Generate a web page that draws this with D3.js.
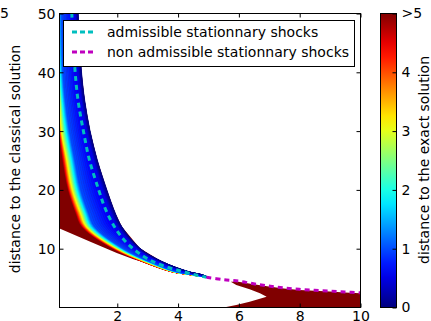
<!DOCTYPE html>
<html><head><meta charset="utf-8">
<script src="https://cdn.jsdelivr.net/npm/d3@7"></script>
<style>body{margin:0;background:#fff}text{font-family:"DejaVu Sans",sans-serif;fill:#000}</style>
</head><body><svg id="c" width="431" height="321"></svg>
<script>
// ---- data ----
const xTicks = [2, 4, 6, 8, 10];
const yTicks = [10, 20, 30, 40, 50];
const cbTicks = [0, 1, 2, 3, 4, 5];
const cbTickLabels = ["0", "1", "2", "3", "4", ">5"];
const seriesNames = ["admissible stationnary shocks", "non admissible stationnary shocks"];
const yLabel = "distance to the classical solution";
const cbLabel = "distance to the exact solution";

// admissible stationary shocks (cyan)
const admX = [0.52, 0.63, 0.73, 0.9, 1.1, 1.4, 1.6, 1.85, 2.1, 2.45, 2.9, 3.3, 3.8, 4.2, 4.6, 4.95];
const admY = [50, 40, 35, 30, 25, 20, 17, 14.3, 12.3, 10.3, 8.55, 7.45, 6.55, 6.0, 5.45, 5.05];
// non admissible stationary shocks (magenta)
const nonX = [4.95, 5.5, 6.0, 6.5, 7.0, 7.5, 8.0, 8.5, 9.0, 9.5, 10.0];
const nonY = [5.05, 4.65, 4.4, 3.95, 3.57, 3.25, 3.0, 2.85, 2.72, 2.55, 2.43];

// band of the distance field: x position of iso-lines (distance 5,4,3,2,1,0.5,0) at each y
const bandY   = [50, 40, 35, 30, 25, 20, 16, 13.65, 10, 7.7, 6, 5.5, 5.05];
const bandL5  = [-0.3, -0.15, 0.0, 0.1, 0.22, 0.4, 0.65, 0.85, 1.85, 2.85, 3.8, 4.4, 4.95];
const bandL4  = [-0.2, 0.0, 0.08, 0.15, 0.3, 0.47, 0.73, 0.94, 1.93, 2.91, 3.84, 4.43, 4.95];
const bandL3  = [-0.1, 0.08, 0.14, 0.2, 0.38, 0.56, 0.83, 1.03, 2.01, 2.97, 3.88, 4.46, 4.95];
const bandL2  = [0.05, 0.14, 0.21, 0.32, 0.5, 0.68, 0.95, 1.14, 2.1, 3.03, 3.92, 4.5, 4.95];
const bandL1  = [0.2, 0.24, 0.32, 0.45, 0.63, 0.82, 1.08, 1.28, 2.2, 3.1, 3.98, 4.55, 4.97];
const bandL05 = [0.65, 0.75, 0.855, 1.02, 1.25, 1.54, 1.82, 2.04, 2.68, 3.44, 4.31, 4.76, 5.01];
const bandL0  = [0.73, 0.84, 0.95, 1.12, 1.36, 1.67, 1.95, 2.17, 2.76, 3.5, 4.37, 4.8, 5.02];

// saturated (>5) region at lower left: lower boundary
const wedgeX = [0.1, 1.13, 2.0, 2.55, 3.02];
const wedgeY = [13.4, 11.1, 9.2, 8.1, 7.4];

// saturated (>5) region at lower right
const rightTopX = [5.75, 6.0, 6.5, 7.0, 7.5, 8.0, 8.5, 9.0, 9.5, 10.0];
const rightTopY = [4.3, 4.3, 3.85, 3.47, 3.15, 2.9, 2.75, 2.62, 2.45, 2.33];
const notchLowerX = [5.6, 5.93, 6.37, 6.93];
const notchLowerY = [0, 0.34, 0.9, 1.75];
const notchUpperX = [6.71, 6.37, 5.93, 5.75];
const notchUpperY = [2.33, 3.0, 3.74, 4.3];

// ---- layout ----
const L = 59, R = 360, T = 13, B = 307;
const FS = "14px";
const svg = d3.select("#c");
const x = d3.scaleLinear().domain([0.1, 10]).range([L, R]);
const y = d3.scaleLinear().domain([0, 50]).range([B, T]);
const cbx0 = 380, cbx1 = 396;
const cy = d3.scaleLinear().domain([0, 5]).range([B, T]);

function jet(t) {
  const c = v => Math.max(0, Math.min(1, v));
  const r = c(1.5 - Math.abs(4 * t - 3)), g = c(1.5 - Math.abs(4 * t - 2)), b = c(1.5 - Math.abs(4 * t - 1));
  return d3.rgb(r * 255, g * 255, b * 255).toString();
}
const color = v => jet(Math.max(0, Math.min(5, v)) / 5);

svg.append("defs").append("clipPath").attr("id", "pc")
  .append("rect").attr("x", L).attr("y", T).attr("width", R - L).attr("height", B - T);
const g = svg.append("g").attr("clip-path", "url(#pc)");

const line = d3.line().x(d => x(d[0])).y(d => y(d[1])).curve(d3.curveCatmullRom);
const poly = d3.line().x(d => x(d[0])).y(d => y(d[1])).curve(d3.curveLinearClosed);

// dark red (>5) region left
{
  const pts = [[-1, 60], [-1, 13.45]];
  wedgeX.forEach((v, i) => pts.push([v, wedgeY[i]]));
  for (let i = bandY.length - 1; i >= 0; i--) if (bandY[i] >= 7.7) pts.push([bandL0[i], bandY[i]]);
  pts.push([bandL0[0], 60]);
  g.append("path").attr("d", poly(pts)).attr("fill", color(5));
}
// dark red (>5) region right
{
  const pts = [];
  rightTopX.forEach((v, i) => pts.push([v, rightTopY[i]]));
  pts.push([10.5, 2.33], [10.5, -1], [5.5, -1]);
  notchLowerX.forEach((v, i) => pts.push([v, notchLowerY[i]]));
  notchUpperX.forEach((v, i) => pts.push([v, notchUpperY[i]]));
  g.append("path").attr("d", poly(pts)).attr("fill", color(5));
}

// band: strips between iso-lines
const levels = [bandL5, bandL4, bandL3, bandL2, bandL1, bandL05, bandL0];
const levelVals = [5, 4, 3, 2, 1, 0.5, 0];
const NS = 10;
const area = d3.area().y(d => y(d.y)).x0(d => x(d.a)).x1(d => x(d.b)).curve(d3.curveCatmullRom);
for (let k = 0; k < levels.length - 1; k++) {
  const A = levels[k], Bk = levels[k + 1];
  for (let s = 0; s < NS; s++) {
    const s0 = s / NS, s1 = (s + 1) / NS;
    const data = bandY.map((yy, i) => ({ y: yy, a: A[i] + (Bk[i] - A[i]) * s0, b: A[i] + (Bk[i] - A[i]) * s1 }));
    const v = levelVals[k] + (levelVals[k + 1] - levelVals[k]) * (s0 + s1) / 2;
    const c = color(v);
    g.append("path").attr("d", area(data)).attr("fill", c).attr("stroke", c).attr("stroke-width", 0.6);
  }
}

// lines
const cyanC = "#00bfbf", magC = "#bf00bf";
g.append("path").attr("d", line(admX.map((v, i) => [v, admY[i]])))
  .attr("fill", "none").attr("stroke", cyanC).attr("stroke-width", 3).attr("stroke-dasharray", "5,4");
g.append("path").attr("d", line(nonX.map((v, i) => [v, nonY[i]])))
  .attr("fill", "none").attr("stroke", magC).attr("stroke-width", 3).attr("stroke-dasharray", "5,4");

// frame
svg.append("rect").attr("x", L + 0.5).attr("y", T + 0.5).attr("width", R - L).attr("height", B - T)
  .attr("fill", "none").attr("stroke", "#000").attr("stroke-width", 1);

// axes with inward ticks
const ax = (gen, tx, ty) => {
  const a = svg.append("g").attr("transform", `translate(${tx},${ty})`).call(gen);
  a.select(".domain").remove();
  a.selectAll("line").attr("stroke", "#000");
  a.selectAll("text").style("font-size", FS).attr("fill", "#000");
  return a;
};
ax(d3.axisBottom(x).tickValues(xTicks).tickSize(-4).tickPadding(4).tickFormat(d3.format("d")), 0.5, B + 0.5);
ax(d3.axisTop(x).tickValues(xTicks).tickSize(-4).tickFormat(""), 0.5, T + 0.5);
ax(d3.axisLeft(y).tickValues(yTicks).tickSize(-4).tickPadding(4).tickFormat(d3.format("d")), L + 0.5, 0.5)
  .selectAll("text").attr("dy", "0.36em");
ax(d3.axisRight(y).tickValues(yTicks).tickSize(-4).tickFormat(""), R + 0.5, 0.5);

// y label
svg.append("text").attr("transform", `translate(20,159) rotate(-90)`)
  .attr("text-anchor", "middle").style("font-size", FS).text(yLabel);
svg.append("text").attr("x", 0).attr("y", 18).style("font-size", FS).text("5");

// legend
const lg = svg.append("g");
lg.append("rect").attr("x", 63.5).attr("y", 20.5).attr("width", 291).attr("height", 46)
  .attr("fill", "#fff").attr("stroke", "#000").attr("stroke-width", 1);
[[cyanC, 32, seriesNames[0]], [magC, 52, seriesNames[1]]].forEach(([c, yy, t]) => {
  lg.append("line").attr("x1", 72).attr("x2", 93).attr("y1", yy).attr("y2", yy)
    .attr("stroke", c).attr("stroke-width", 3).attr("stroke-dasharray", "5,3");
  lg.append("text").attr("x", 107).attr("y", yy + 5).style("font-size", FS).text(t);
});

// colorbar
const grad = svg.select("defs").append("linearGradient").attr("id", "jet")
  .attr("x1", 0).attr("y1", 1).attr("x2", 0).attr("y2", 0);
d3.range(0, 1.0001, 0.05).forEach(t => grad.append("stop").attr("offset", t).attr("stop-color", jet(t)));
svg.append("rect").attr("x", cbx0).attr("y", T).attr("width", cbx1 - cbx0).attr("height", B - T)
  .attr("fill", "url(#jet)");
svg.append("rect").attr("x", cbx0 + 0.5).attr("y", T + 0.5).attr("width", cbx1 - cbx0).attr("height", B - T)
  .attr("fill", "none").attr("stroke", "#000");
const cba = svg.append("g").attr("transform", `translate(${cbx1 + 0.5},0.5)`)
  .call(d3.axisRight(cy).tickValues(cbTicks).tickSize(-4).tickPadding(5).tickFormat((d, i) => cbTickLabels[i]));
cba.select(".domain").remove();
cba.selectAll("line").attr("stroke", "#000");
cba.selectAll("text").style("font-size", FS).attr("fill", "#000");
svg.append("text").attr("transform", `translate(429,160) rotate(-90)`)
  .attr("text-anchor", "middle").style("font-size", FS).text(cbLabel);
</script></body></html>
